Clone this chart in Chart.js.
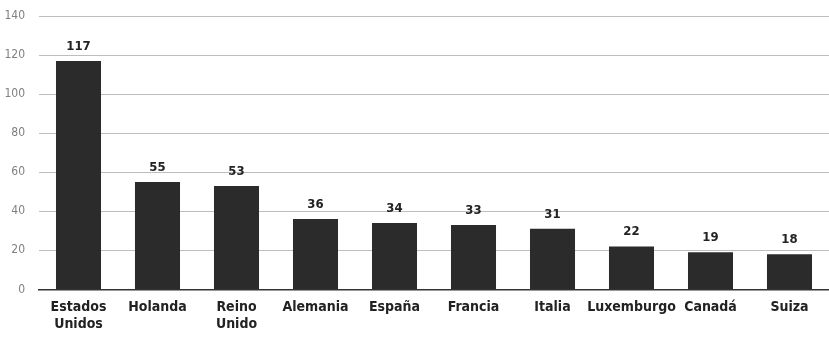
<!DOCTYPE html>
<html><head><meta charset="utf-8">
<script src="https://cdn.jsdelivr.net/npm/chart.js@4"></script>
<style>html,body{margin:0;padding:0;background:#fff}#wrap{width:829px;height:344px}</style>
</head><body><div id="wrap"><canvas id="c" width="829" height="344"></canvas></div>
<script>
const categories = [["Estados","Unidos"],"Holanda",["Reino","Unido"],"Alemania","España","Francia","Italia","Luxemburgo","Canadá","Suiza"];
const values = [117,55,53,36,34,33,31,22,19,18];
const yTicks = [0,20,40,60,80,100,120,140];

const FONT = "'DejaVu Sans Condensed','Liberation Sans Narrow','Roboto',sans-serif";

const valueLabels = {
  id:'valueLabels',
  afterDatasetsDraw(chart){
    const ctx = chart.ctx;
    const meta = chart.getDatasetMeta(0);
    ctx.save();
    ctx.font = "bold 13px " + FONT;
    ctx.fillStyle = '#222';
    ctx.textAlign = 'center';
    ctx.textBaseline = 'bottom';
    meta.data.forEach((bar,i)=>{
      ctx.fillText(String(values[i]), bar.x, bar.y - 8);
    });
    ctx.restore();
  }
};

new Chart(document.getElementById('c'),{
  type:'bar',
  data:{labels:categories,datasets:[{data:values,backgroundColor:'#2b2b2b',borderWidth:0,categoryPercentage:1,barPercentage:0.57}]},
  options:{
    responsive:false,animation:false,
    layout:{padding:{left:0,right:0,top:16,bottom:1}},
    plugins:{legend:{display:false},tooltip:{enabled:false}},
    scales:{
      x:{grid:{display:false,drawTicks:false},border:{color:'#333',width:1.5},
         ticks:{color:'#222',font:{family:FONT,size:14,weight:'bold'},padding:10,maxRotation:0,autoSkip:false}},
      y:{min:0,max:140,afterBuildTicks(a){a.ticks=yTicks.map(v=>({value:v}));},
         afterFit(s){s.width=39;s.paddingTop=0;s.paddingBottom=0;},
         grid:{color:'#bdbdbd',lineWidth:1,drawTicks:false},border:{display:false},
         ticks:{color:'#808080',font:{family:FONT,size:12},padding:14}}
    }
  },
  plugins:[valueLabels]
});
</script></body></html>
